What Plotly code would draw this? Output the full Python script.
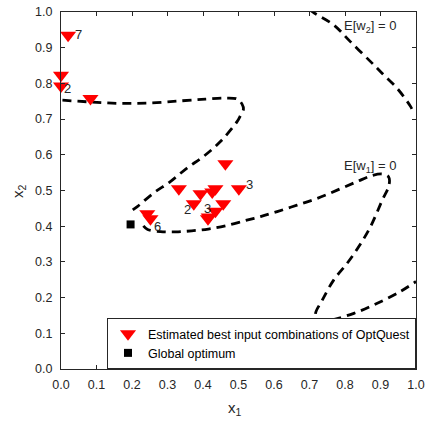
import plotly.graph_objects as go

# OptQuest estimated best inputs
opt_x1 = [0.02, 0.0, 0.0, 0.083, 0.463, 0.332, 0.393, 0.435, 0.426, 0.501, 0.374, 0.457, 0.435, 0.416, 0.414, 0.243, 0.252]
opt_x2 = [0.935, 0.823, 0.793, 0.758, 0.575, 0.505, 0.491, 0.505, 0.496, 0.505, 0.463, 0.463, 0.442, 0.426, 0.421, 0.435, 0.421]

glob_x1 = [0.196]
glob_x2 = [0.405]

# count labels
lab_text = ["7", "2", "3", "2", "3", "6"]
lab_x1 = [0.049, 0.018, 0.531, 0.355, 0.414, 0.273]
lab_x2 = [0.936, 0.787, 0.517, 0.447, 0.450, 0.400]

# contour E[w1]=0 / E[w2]=0 traced curves
cA_x1 = [0.004, 0.083, 0.168, 0.252, 0.337, 0.407, 0.463, 0.497, 0.510, 0.514, 0.506, 0.496,
         0.449, 0.401, 0.355, 0.308, 0.261, 0.215, 0.190]
cA_x2 = [0.753, 0.748, 0.744, 0.745, 0.751, 0.756, 0.759, 0.756, 0.742, 0.728, 0.711, 0.693,
         0.637, 0.595, 0.563, 0.525, 0.493, 0.455, 0.437]

cB_x1 = [0.232, 0.244, 0.280, 0.323, 0.368, 0.415, 0.463, 0.520, 0.562, 0.609, 0.665, 0.722,
         0.778, 0.834, 0.877, 0.906, 0.923, 0.924, 0.905, 0.872, 0.839, 0.806, 0.768, 0.736,
         0.717, 0.720, 0.731, 0.759, 0.825, 0.891, 0.956, 1.0]
cB_x2 = [0.401, 0.391, 0.385, 0.384, 0.387, 0.392, 0.401, 0.416, 0.427, 0.441, 0.459, 0.478,
         0.501, 0.525, 0.542, 0.546, 0.538, 0.515, 0.473, 0.399, 0.343, 0.296, 0.249, 0.193,
         0.156, 0.143, 0.136, 0.137, 0.156, 0.184, 0.217, 0.245]

cC_x1 = [0.700, 0.709, 0.768, 0.815, 0.872, 0.905, 0.947, 0.985, 0.990]
cC_x2 = [1.008, 1.0, 0.964, 0.917, 0.861, 0.828, 0.786, 0.735, 0.725]

contour_labels = ["E[w<sub>2</sub>] = 0", "E[w<sub>1</sub>] = 0"]
contour_lab_x1 = [0.870, 0.870]
contour_lab_x2 = [0.958, 0.566]

axis_titles = ["x<sub>1</sub>", "x<sub>2</sub>"]

ticks = [round(i * 0.1, 1) for i in range(11)]
tick_text = [f"{t:.1f}" for t in ticks]

FONT = "Liberation Sans, Arial, sans-serif"
TXT = "#262626"
fig = go.Figure()

dash_line = dict(color="black", width=2.8, dash="9px,6px")
for cx, cy in [(cA_x1, cA_x2), (cB_x1, cB_x2), (cC_x1, cC_x2)]:
    fig.add_trace(go.Scatter(x=cx, y=cy, mode="lines", line=dash_line,
                             showlegend=False, hoverinfo="skip", line_shape="spline"))

fig.add_trace(go.Scatter(x=opt_x1, y=opt_x2, mode="markers",
                         marker=dict(symbol="triangle-down", size=14, color="#ff0000",
                                     line=dict(width=0)),
                         name="Estimated best input combinations of OptQuest", cliponaxis=False))
fig.add_trace(go.Scatter(x=glob_x1, y=glob_x2, mode="markers",
                         marker=dict(symbol="square", size=8, color="black"),
                         name="Global optimum"))

for t, x, y in zip(lab_text, lab_x1, lab_x2):
    fig.add_annotation(x=x, y=y, text=t, showarrow=False,
                       font=dict(family=FONT, size=13, color=TXT))
for t, x, y in zip(contour_labels, contour_lab_x1, contour_lab_x2):
    fig.add_annotation(x=x, y=y, text=t, showarrow=False,
                       font=dict(family=FONT, size=13, color=TXT))

fig.add_annotation(xref="paper", yref="paper", x=0.49, y=-0.11, text=axis_titles[0],
                   xanchor="center", yanchor="middle",
                   showarrow=False, font=dict(family=FONT, size=15, color=TXT))
fig.add_annotation(xref="paper", yref="paper", x=-0.12, y=0.5, text=axis_titles[1],
                   xanchor="center", yanchor="middle",
                   textangle=-90, showarrow=False, font=dict(family=FONT, size=15, color=TXT))

axis_common = dict(range=[0, 1], tickvals=ticks, ticktext=tick_text, ticks="inside",
                   ticklen=4, tickcolor=TXT, showline=True, linecolor=TXT,
                   linewidth=1, mirror="ticks", showgrid=False, zeroline=False,
                   automargin=False,
                   tickfont=dict(family=FONT, size=12.5, color=TXT))

fig.update_layout(
    width=425, height=422,
    margin=dict(l=61, r=9, t=12, b=53, autoexpand=False),
    plot_bgcolor="white", paper_bgcolor="white",
    xaxis=dict(**axis_common, ticklabelstandoff=4),
    yaxis=dict(**axis_common, ticklabelstandoff=5),
    legend=dict(x=1.0, y=0.0, xanchor="right", yanchor="bottom",
                bgcolor="white", bordercolor=TXT, borderwidth=1,
                font=dict(family=FONT, size=12.5, color="black"),
                tracegroupgap=0, itemsizing="trace"),
    showlegend=True,
)

fig.write_html("out.html")
